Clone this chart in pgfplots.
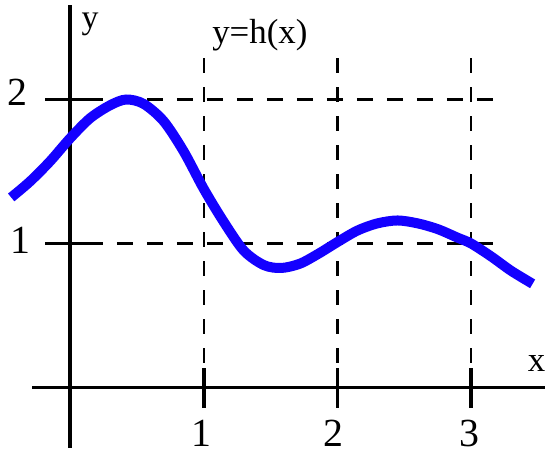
\documentclass[border=0pt]{standalone}
\usepackage{pgfplots}
\pgfplotsset{compat=1.18}
\usepackage{fontspec}
\setmainfont{Liberation Serif}
\begin{document}
\begin{tikzpicture}
\begin{axis}[
  x=133.7bp, y=144bp,
  xmin=-0.5236, xmax=3.590, ymin=-0.4896, ymax=2.691,
  hide axis, clip=false,
  scale only axis,
]
\path (axis cs:-0.5236,-0.4896) rectangle (axis cs:3.590,2.691);
% dashed guide lines
\addplot[black, line width=2.2bp, dash pattern=on 16bp off 14bp] coordinates {(0.127,2) (3.18,2)};
\addplot[black, line width=2.2bp, dash pattern=on 16bp off 14bp] coordinates {(0.127,1) (3.18,1)};
\addplot[black, line width=2.2bp, dash pattern=on 15bp off 14bp] coordinates {(1,2.288) (1,0.135)};
\addplot[black, line width=2.2bp, dash pattern=on 15bp off 14bp] coordinates {(2,2.288) (2,0.135)};
\addplot[black, line width=2.2bp, dash pattern=on 15bp off 14bp] coordinates {(3,2.288) (3,0.135)};
% axes
\addplot[black, line width=3.4bp] coordinates {(0,2.656) (0,-0.42)};
\addplot[black, line width=3.4bp] coordinates {(-0.284,0) (3.553,0)};
% ticks
\addplot[black, line width=3.8bp] coordinates {(-0.187,2) (0.127,2)};
\addplot[black, line width=3.8bp] coordinates {(-0.187,1) (0.127,1)};
\addplot[black, line width=3.8bp] coordinates {(-0.187,0) (0.127,0)};
\addplot[black, line width=3.8bp] coordinates {(0,0.135) (0,-0.142)};
\addplot[black, line width=3.8bp] coordinates {(1,0.135) (1,-0.142)};
\addplot[black, line width=3.8bp] coordinates {(2,0.135) (2,-0.142)};
\addplot[black, line width=3.8bp] coordinates {(3,0.135) (3,-0.142)};
% curve
\addplot[color={rgb,255:red,20;green,0;blue,255}, line width=10bp, smooth, tension=0.5] coordinates {
(-0.44,1.32) (-0.3,1.43) (-0.15,1.57) (0,1.73) (0.15,1.87) (0.3,1.96) (0.42,2.0)
(0.55,1.97) (0.7,1.85) (0.85,1.64) (1.0,1.38) (1.15,1.15) (1.3,0.95) (1.45,0.85)
(1.58,0.83) (1.72,0.86) (1.86,0.93) (2.0,1.01) (2.15,1.09) (2.3,1.14) (2.45,1.16)
(2.6,1.14) (2.75,1.10) (2.9,1.04) (3.0,1.0) (3.15,0.91) (3.3,0.81) (3.46,0.72)};
% labels
\node[font=\fontsize{40}{44}\selectfont] at (axis cs:-0.39,2.05) {2};
\node[font=\fontsize{40}{44}\selectfont] at (axis cs:-0.37,1.02) {1};
\node[font=\fontsize{40}{44}\selectfont] at (axis cs:0.98,-0.32) {1};
\node[font=\fontsize{40}{44}\selectfont] at (axis cs:1.97,-0.32) {2};
\node[font=\fontsize{40}{44}\selectfont] at (axis cs:2.99,-0.32) {3};
\node[font=\fontsize{34}{38}\selectfont, anchor=base, inner sep=0pt] at (axis cs:0.15,2.49) {y};
\node[font=\fontsize{35}{38}\selectfont, anchor=base] at (axis cs:1.42,2.39) {y=h(x)};
\node[font=\fontsize{35}{38}\selectfont, anchor=base] at (axis cs:3.49,0.108) {x};
\end{axis}
\end{tikzpicture}
\end{document}
